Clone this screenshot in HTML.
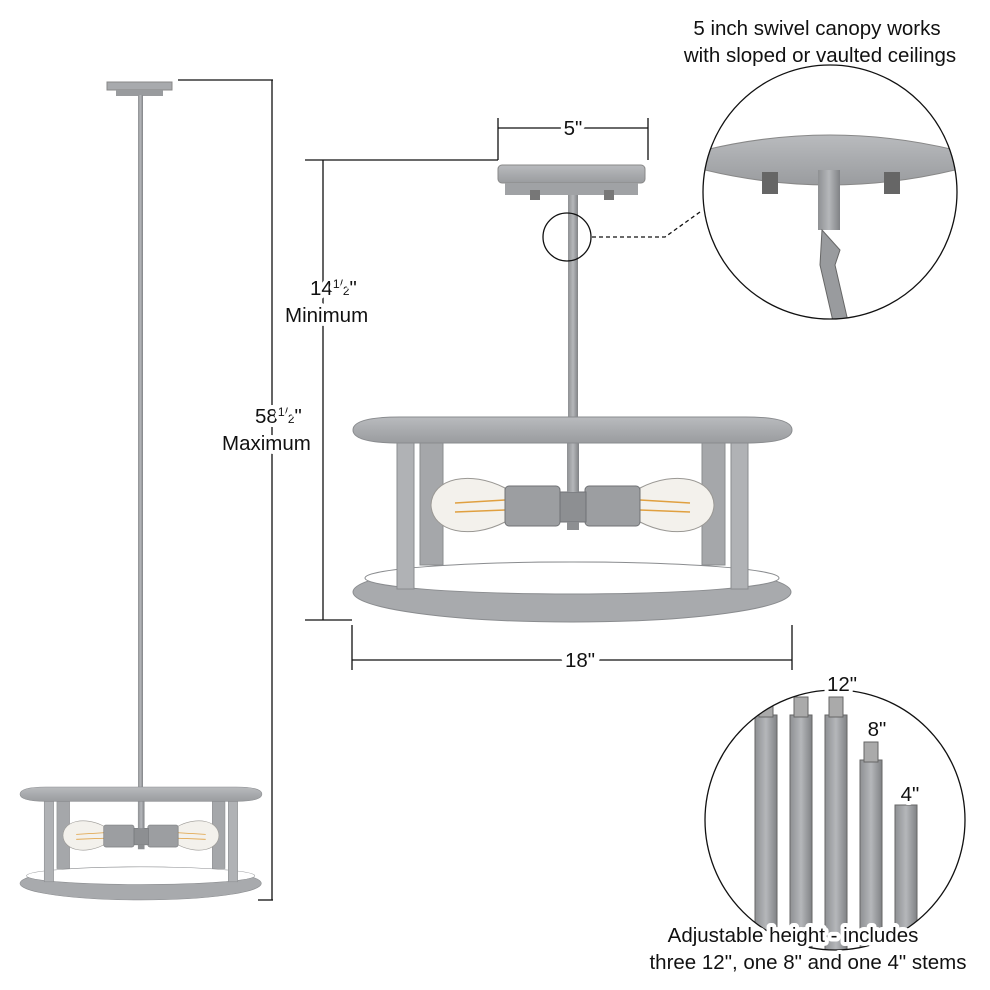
<!DOCTYPE html>
<html><head><meta charset="utf-8"><style>
html,body{margin:0;padding:0;background:#fff}
svg{display:block}
text{font-family:"Liberation Sans",Arial,sans-serif;fill:#111}
.h{paint-order:stroke;stroke:#fff;stroke-width:8px;stroke-linejoin:round}
</style></head><body>
<svg width="990" height="990" viewBox="0 0 990 990" xmlns="http://www.w3.org/2000/svg">
<defs>
<linearGradient id="metal" x1="0" y1="0" x2="0" y2="1">
<stop offset="0" stop-color="#b9bbbe"/><stop offset="0.5" stop-color="#a9abae"/><stop offset="1" stop-color="#9a9c9f"/>
</linearGradient>
<linearGradient id="rod" x1="0" y1="0" x2="1" y2="0">
<stop offset="0" stop-color="#8e9093"/><stop offset="0.5" stop-color="#b5b7ba"/><stop offset="1" stop-color="#808285"/>
</linearGradient>
<g id="fix">
<ellipse cx="572" cy="592" rx="219" ry="30" fill="#a8aaad" stroke="#8a8c8f"/>
<ellipse cx="572" cy="578" rx="207" ry="16" fill="#fff" stroke="#8a8c8f"/>
<rect x="397" y="443" width="17" height="146" fill="#b0b2b5" stroke="#8a8c8f"/>
<rect x="420" y="443" width="23" height="122" fill="#a5a7aa" stroke="#8a8c8f"/>
<rect x="702" y="443" width="23" height="122" fill="#a5a7aa" stroke="#8a8c8f"/>
<rect x="731" y="443" width="17" height="146" fill="#b0b2b5" stroke="#8a8c8f"/>
<path d="M505,488 C470,470 432,478 431,505 C432,532 470,540 505,522 Z" fill="#f3f1ec" stroke="#9a9894"/>
<path d="M640,488 C675,470 713,478 714,505 C713,532 675,540 640,522 Z" fill="#f3f1ec" stroke="#9a9894"/>
<line x1="455" y1="503" x2="505" y2="500" stroke="#e0a040" stroke-width="1.5"/>
<line x1="455" y1="512" x2="505" y2="510" stroke="#e0a040" stroke-width="1.5"/>
<line x1="640" y1="500" x2="690" y2="503" stroke="#e0a040" stroke-width="1.5"/>
<line x1="640" y1="510" x2="690" y2="512" stroke="#e0a040" stroke-width="1.5"/>
<rect x="505" y="486" width="55" height="40" rx="4" fill="#9c9ea1" stroke="#707275"/>
<rect x="585" y="486" width="55" height="40" rx="4" fill="#9c9ea1" stroke="#707275"/>
<rect x="560" y="492" width="26" height="30" fill="#8d8f92" stroke="#707275"/>
<rect x="567" y="522" width="12" height="8" fill="#8d8f92"/>
<rect x="567" y="443" width="12" height="49" fill="url(#rod)"/>
<path d="M353,430 Q353,417 400,417 L745,417 Q792,417 792,430 Q792,443 745,443 L400,443 Q353,443 353,430 Z" fill="url(#metal)" stroke="#8a8c8f"/>
</g>
</defs>

<rect x="107" y="82" width="65" height="8" fill="#a8aaad" stroke="#888"/>
<rect x="116" y="90" width="47" height="6" fill="#999b9e"/>
<rect x="138" y="95" width="5" height="700" fill="url(#rod)"/>
<g transform="translate(20,787) scale(0.551) translate(-353,-417)"><use href="#fix"/></g>
<line x1="178" y1="80" x2="273" y2="80" stroke="#111" stroke-width="1.3"/>
<line x1="258" y1="900" x2="273" y2="900" stroke="#111" stroke-width="1.3"/>
<line x1="272" y1="80" x2="272" y2="900" stroke="#111" stroke-width="1.3"/>
<text class="h" x="255" y="423" font-size="20.5">58<tspan font-size="12" dy="-7">1/</tspan><tspan font-size="12" dy="7">2</tspan>"</text>
<text class="h" x="222" y="450" font-size="20.5">Maximum</text>

<line x1="498" y1="118" x2="498" y2="160" stroke="#111" stroke-width="1.3"/>
<line x1="648" y1="118" x2="648" y2="160" stroke="#111" stroke-width="1.3"/>
<line x1="498" y1="128" x2="648" y2="128" stroke="#111" stroke-width="1.3"/>
<text class="h" x="573" y="135" font-size="20.5" text-anchor="middle">5"</text>
<line x1="305" y1="160" x2="498" y2="160" stroke="#111" stroke-width="1.3"/>
<line x1="305" y1="620" x2="352" y2="620" stroke="#111" stroke-width="1.3"/>
<line x1="323" y1="160" x2="323" y2="620" stroke="#111" stroke-width="1.3"/>
<text class="h" x="310" y="295" font-size="20.5">14<tspan font-size="12" dy="-7">1/</tspan><tspan font-size="12" dy="7">2</tspan>"</text>
<text class="h" x="285" y="322" font-size="20.5">Minimum</text>
<rect x="498" y="165" width="147" height="18" rx="4" fill="url(#metal)" stroke="#888"/>
<rect x="505" y="183" width="133" height="12" fill="#a0a2a5"/>
<rect x="530" y="190" width="10" height="10" fill="#777"/>
<rect x="604" y="190" width="10" height="10" fill="#777"/>
<rect x="568" y="195" width="10" height="222" fill="url(#rod)"/>
<use href="#fix"/>
<circle cx="567" cy="237" r="24" fill="none" stroke="#111" stroke-width="1.3"/>
<polyline points="592,237 665,237 700,212" fill="none" stroke="#111" stroke-width="1.3" stroke-dasharray="4,3"/>
<line x1="352" y1="625" x2="352" y2="670" stroke="#111" stroke-width="1.3"/>
<line x1="792" y1="625" x2="792" y2="670" stroke="#111" stroke-width="1.3"/>
<line x1="352" y1="660" x2="792" y2="660" stroke="#111" stroke-width="1.3"/>
<text class="h" x="580" y="667" font-size="20.5" text-anchor="middle" style="stroke-width:12px">18"</text>

<text x="817" y="35" font-size="20.5" text-anchor="middle">5 inch swivel canopy works</text>
<text x="820" y="62" font-size="20.5" text-anchor="middle">with sloped or vaulted ceilings</text>
<clipPath id="c1"><circle cx="830" cy="192" r="127"/></clipPath>
<g clip-path="url(#c1)">
<path d="M705,150 Q830,120 955,150 L955,170 Q830,200 705,170 Z" fill="url(#metal)" stroke="#888"/>
<rect x="762" y="172" width="16" height="22" fill="#666"/>
<rect x="884" y="172" width="16" height="22" fill="#666"/>
<rect x="818" y="170" width="22" height="60" fill="url(#rod)"/>
<path d="M822,230 L840,250 L835,265 L850,330 L835,330 L820,265 Z" fill="#999b9e" stroke="#666"/>
</g>
<circle cx="830" cy="192" r="127" fill="none" stroke="#111" stroke-width="1.3"/>

<clipPath id="c2"><circle cx="835" cy="820" r="130"/></clipPath>
<g clip-path="url(#c2)">
<rect x="755" y="715" width="22" height="240" fill="url(#rod)" stroke="#666"/>
<rect x="790" y="715" width="22" height="240" fill="url(#rod)" stroke="#666"/>
<rect x="825" y="715" width="22" height="240" fill="url(#rod)" stroke="#666"/>
<rect x="860" y="760" width="22" height="200" fill="url(#rod)" stroke="#666"/>
<rect x="895" y="805" width="22" height="160" fill="url(#rod)" stroke="#666"/>
<rect x="759" y="697" width="14" height="20" fill="#aaa" stroke="#666"/>
<rect x="794" y="697" width="14" height="20" fill="#aaa" stroke="#666"/>
<rect x="829" y="697" width="14" height="20" fill="#aaa" stroke="#666"/>
<rect x="864" y="742" width="14" height="20" fill="#aaa" stroke="#666"/>
</g>
<circle cx="835" cy="820" r="130" fill="none" stroke="#111" stroke-width="1.3"/>
<text class="h" x="842" y="691" font-size="20.5" text-anchor="middle">12"</text>
<text class="h" x="877" y="736" font-size="20.5" text-anchor="middle">8"</text>
<text class="h" x="910" y="801" font-size="20.5" text-anchor="middle">4"</text>
<text class="h" x="793" y="942" font-size="20.5" text-anchor="middle">Adjustable height - includes</text>
<text class="h" x="808" y="969" font-size="20.5" text-anchor="middle">three 12", one 8" and one 4" stems</text>
</svg>
</body></html>
